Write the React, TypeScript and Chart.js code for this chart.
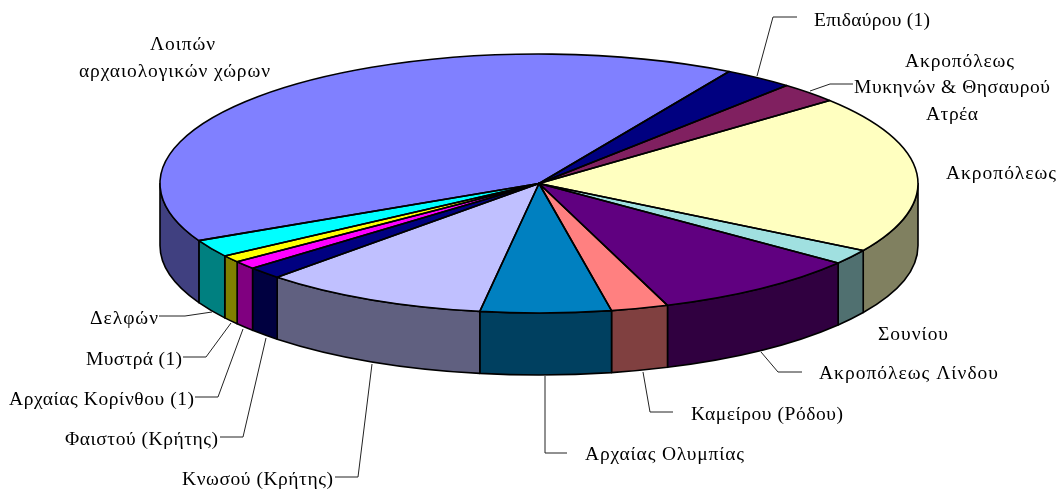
import React, { useEffect, useRef } from "react";
import { Chart, registerables } from "chart.js";

Chart.register(...registerables);

const categories = [
  "Επιδαύρου (1)",
  "Ακροπόλεως Μυκηνών & Θησαυρού Ατρέα",
  "Ακροπόλεως",
  "Σουνίου",
  "Ακροπόλεως Λίνδου",
  "Καμείρου (Ρόδου)",
  "Αρχαίας Ολυμπίας",
  "Κνωσού (Κρήτης)",
  "Φαιστού (Κρήτης)",
  "Αρχαίας Κορίνθου (1)",
  "Μυστρά (1)",
  "Δελφών",
  "Λοιπών αρχαιολογικών χώρων",
];
const shares = [2.97, 2.58, 19.75, 1.86, 8.97, 2.44, 5.56, 9.64, 1.5, 1.03, 0.89, 2.17, 40.63];
const topColors = [
  "#000080", "#802060", "#FFFFC0", "#A0E0E0", "#600080", "#FF8080", "#0080C0",
  "#C0C0FF", "#000080", "#FF00FF", "#FFFF00", "#00FFFF", "#8080FF",
];
const sideColors = [
  "#000040", "#401030", "#808060", "#507070", "#300040", "#804040", "#004060",
  "#606080", "#000040", "#800080", "#808000", "#008080", "#404080",
];

const W = 1060;
const H = 498;
const CX = 539;
const CY = 183.5;
const RX = 379;
const RY = 129.5;
const DEPTH = 62;
const FIRST_ANGLE = 30.1;
const FONT = '19.5px "Liberation Serif", "Times New Roman", serif';
const TEXT_DY = 1.5;

type Lbl = { t: string; x: number; y: number; w: number };
const labels: Lbl[] = [
  { t: "Λοιπών", x: 150, y: 43, w: 65 },
  { t: "αρχαιολογικών χώρων", x: 79, y: 70, w: 191 },
  { t: "Επιδαύρου (1)", x: 814, y: 19, w: 116 },
  { t: "Ακροπόλεως", x: 905, y: 60, w: 109 },
  { t: "Μυκηνών & Θησαυρού", x: 854, y: 86, w: 196 },
  { t: "Ατρέα", x: 926, y: 113, w: 52 },
  { t: "Ακροπόλεως", x: 946, y: 172, w: 110 },
  { t: "Σουνίου", x: 878, y: 333, w: 70 },
  { t: "Ακροπόλεως Λίνδου", x: 819, y: 372, w: 179 },
  { t: "Καμείρου (Ρόδου)", x: 691, y: 413, w: 152 },
  { t: "Αρχαίας Ολυμπίας", x: 585, y: 453, w: 159 },
  { t: "Δελφών", x: 90, y: 317, w: 68 },
  { t: "Μυστρά (1)", x: 86, y: 358, w: 96 },
  { t: "Αρχαίας Κορίνθου (1)", x: 9, y: 398, w: 185 },
  { t: "Φαιστού (Κρήτης)", x: 65, y: 438, w: 153 },
  { t: "Κνωσού (Κρήτης)", x: 182, y: 478, w: 151 },
];

const leaders: number[][][] = [
  [[757, 76], [773, 17], [797, 17]],
  [[810, 91], [830, 84], [853, 84]],
  [[761, 352], [778, 372], [802, 372]],
  [[643, 372], [650, 412], [673, 412]],
  [[545, 376], [545, 453], [567, 453]],
  [[159, 316], [185, 316], [212, 312]],
  [[183, 357], [206, 357], [231, 323]],
  [[195, 397], [218, 397], [243, 329]],
  [[220, 437], [243, 437], [266, 338]],
  [[335, 477], [358, 477], [372, 364]],
];

const pie3d = {
  id: "pie3d",
  beforeDatasetsDraw(chart: any) {
    const ctx = chart.ctx;
    const arcs = chart.getDatasetMeta(0).data;
    const k = RY / RX;
    ctx.save();
    ctx.lineWidth = 1.6;
    ctx.strokeStyle = "#000";
    ctx.lineJoin = "round";
    arcs.forEach((arc: any, i: number) => {
      const p = arc.getProps(["x", "y", "startAngle", "endAngle", "outerRadius"], true);
      const ry = p.outerRadius * k;
      for (let n = -1; n <= 1; n++) {
        const a0 = Math.max(p.startAngle + n * 2 * Math.PI, 0);
        const a1 = Math.min(p.endAngle + n * 2 * Math.PI, Math.PI);
        if (a1 <= a0) continue;
        ctx.beginPath();
        ctx.ellipse(p.x, p.y, p.outerRadius, ry, 0, a0, a1);
        ctx.ellipse(p.x, p.y + DEPTH, p.outerRadius, ry, 0, a1, a0, true);
        ctx.closePath();
        ctx.fillStyle = sideColors[i];
        ctx.fill();
        ctx.stroke();
      }
    });
    ctx.restore();
    ctx.save();
    ctx.translate(CX, CY);
    ctx.scale(1, k);
    ctx.translate(-CX, -CY);
  },
  afterDatasetsDraw(chart: any) {
    const ctx = chart.ctx;
    ctx.restore();
    const arcs = chart.getDatasetMeta(0).data;
    const k = RY / RX;
    ctx.save();
    ctx.lineWidth = 1.6;
    ctx.strokeStyle = "#000";
    ctx.lineJoin = "round";
    arcs.forEach((arc: any) => {
      const p = arc.getProps(["x", "y", "startAngle", "endAngle", "outerRadius"], true);
      ctx.beginPath();
      ctx.moveTo(p.x, p.y);
      ctx.ellipse(p.x, p.y, p.outerRadius, p.outerRadius * k, 0, p.startAngle, p.endAngle);
      ctx.closePath();
      ctx.stroke();
    });
    ctx.lineWidth = 1;
    ctx.strokeStyle = "#222";
    leaders.forEach((pts) => {
      ctx.beginPath();
      pts.forEach(([x, y], i) => (i ? ctx.lineTo(x, y) : ctx.moveTo(x, y)));
      ctx.stroke();
    });
    ctx.fillStyle = "#000";
    ctx.font = FONT;
    ctx.textAlign = "left";
    ctx.textBaseline = "middle";
    labels.forEach((l) => {
      ctx.letterSpacing = "0px";
      const natural = ctx.measureText(l.t).width;
      ctx.letterSpacing = `${(l.w - natural) / Math.max(l.t.length - 1, 1)}px`;
      ctx.fillText(l.t, l.x, l.y + TEXT_DY);
    });
    ctx.letterSpacing = "0px";
    ctx.restore();
  },
};

export default function App() {
  const ref = useRef<HTMLCanvasElement>(null);
  useEffect(() => {
    const chart = new Chart(ref.current as HTMLCanvasElement, {
      type: "pie",
      data: {
        labels: categories,
        datasets: [
          {
            data: shares,
            backgroundColor: topColors,
            borderWidth: 0,
            radius: RX,
            rotation: FIRST_ANGLE,
            clip: false,
          } as any,
        ],
      },
      options: {
        animation: false,
        responsive: false,
        events: [],
        layout: { padding: { left: 2 * CX - W, bottom: H - 2 * CY, top: 0, right: 0 } },
        plugins: { legend: { display: false }, tooltip: { enabled: false } },
      },
      plugins: [pie3d],
    });
    return () => chart.destroy();
  }, []);
  return (
    <canvas
      ref={ref}
      width={W}
      height={H}
      style={{ position: "absolute", left: 0, top: 0, width: W, height: H, display: "block" }}
    />
  );
}
